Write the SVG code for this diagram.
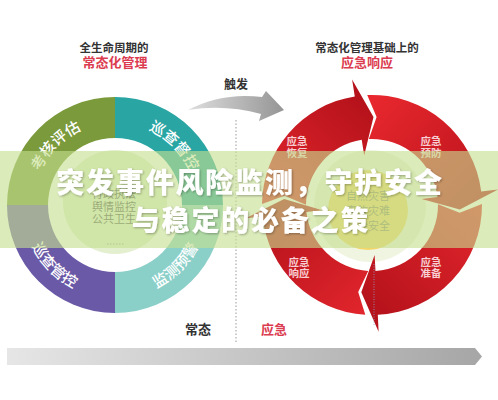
<svg xmlns="http://www.w3.org/2000/svg" width="498" height="400" viewBox="0 0 498 400">
<style>
text{font-family:"Noto Sans CJK SC","Noto Sans",sans-serif}
.h{font-size:11.5px;font-weight:700;fill:#333;text-anchor:middle}
.hr{font-size:13px;font-weight:700;fill:#dc3c50;text-anchor:middle}
.ring{font-size:15px;font-weight:500;fill:#fff}
.inl{font-size:11px;fill:#555;text-anchor:middle}
.inr{font-size:11px;fill:#8a8660;text-anchor:middle}
.al{font-size:10.5px;font-weight:700;fill:#f7cfd2;text-anchor:middle}
.title{font-size:28px;font-weight:900;fill:#fff;text-anchor:middle;letter-spacing:1.8px}
.arrow{stroke:none}
</style>
<defs>
<linearGradient id="gTop" gradientUnits="userSpaceOnUse" x1="270" y1="205" x2="365" y2="100"><stop offset="0" stop-color="#e3262d"/><stop offset="1" stop-color="#b5121b"/></linearGradient>
<linearGradient id="gRight" gradientUnits="userSpaceOnUse" x1="370" y1="100" x2="480" y2="200"><stop offset="0" stop-color="#e8282e"/><stop offset="1" stop-color="#bb131c"/></linearGradient>
<linearGradient id="gBottom" gradientUnits="userSpaceOnUse" x1="480" y1="205" x2="375" y2="315"><stop offset="0" stop-color="#e3262d"/><stop offset="1" stop-color="#b5121b"/></linearGradient>
<linearGradient id="gLeft" gradientUnits="userSpaceOnUse" x1="370" y1="315" x2="265" y2="210"><stop offset="0" stop-color="#e3262d"/><stop offset="1" stop-color="#b5121b"/></linearGradient>
<linearGradient id="gBar" x1="0" y1="0" x2="1" y2="0"><stop offset="0" stop-color="#e6e6e6"/><stop offset="1" stop-color="#a6a6a6"/></linearGradient>
<linearGradient id="gTrig" x1="0" y1="0" x2="1" y2="0"><stop offset="0" stop-color="#dedede"/><stop offset="1" stop-color="#959595"/></linearGradient>
<filter id="sh" x="-10%" y="-30%" width="120%" height="160%"><feDropShadow dx="1" dy="1" stdDeviation="1" flood-color="#000" flood-opacity="0.3"/></filter>
<path id="tpTL" d="M33,205 A82,82 0 0 1 115,123"/>
<path id="tpTR" d="M115,123 A82,82 0 0 1 197,205"/>
<path id="tpBL" d="M22,205 A93,93 0 0 0 115,298"/>
<path id="tpBR" d="M115,298 A93,93 0 0 0 208,205"/>
</defs>
<rect width="498" height="400" fill="#fff"/>

<g id="header-left">
<text class="h" x="114" y="52">全生命周期的</text>
<text class="hr" x="115" y="67">常态化管理</text>
</g>
<g id="header-right">
<text class="h" x="367" y="52">常态化管理基础上的</text>
<text class="hr" x="367" y="67">应急响应</text>
</g>

<g id="left-cycle">
<g id="seg-assess"><path d="M7,205 A108,108 0 0 1 115,97 L115,138 A67,67 0 0 0 48,205 Z" fill="#7b9a3b"/><text class="ring"><textPath href="#tpTL" startOffset="50%" text-anchor="middle">考核评估</textPath></text></g>
<g id="seg-inspect"><path d="M115,97 A108,108 0 0 1 223,205 L182,205 A67,67 0 0 0 115,138 Z" fill="#29a6a4"/><text class="ring"><textPath href="#tpTR" startOffset="50%" text-anchor="middle">巡查督控</textPath></text></g>
<g id="seg-monitor"><path d="M223,205 A108,108 0 0 1 115,313 L115,272 A67,67 0 0 0 182,205 Z" fill="#8bcfc9"/><text class="ring"><textPath href="#tpBR" startOffset="50%" text-anchor="middle">监测预警</textPath></text></g>
<g id="seg-control"><path d="M115,313 A108,108 0 0 1 7,205 L48,205 A67,67 0 0 0 115,272 Z" fill="#6a59a7"/><text class="ring"><textPath href="#tpBL" startOffset="50%" text-anchor="middle">巡查管控</textPath></text></g>
<g id="left-core">
<circle cx="115" cy="202" r="52" fill="#e3efcf"/>
<text class="inl" x="114" y="198">行政执法</text>
<text class="inl" x="114" y="211">舆情监控</text>
<text class="inl" x="114" y="223">公共卫生</text>
<line x1="107" y1="244" x2="124" y2="244" stroke="#999" stroke-width="1.2" stroke-dasharray="1.5 1.5"/>
</g>
</g>

<g id="right-cycle">
<g id="right-core">
<circle cx="370" cy="206" r="56" fill="#f0f5e1"/>
<circle cx="368" cy="210" r="40" fill="#f2d66a"/>
<text class="inr" x="368" y="200">自然灾害</text>
<text class="inr" x="368" y="215">事故灾难</text>
<text class="inr" x="368" y="230">社会安全</text>
</g>
<g id="arrow-recover"><path class="arrow" fill="url(#gTop)" d="M262.0,204.0 A110,110 0 0 1 354.8,96.4 L352.1,79.6 L373.5,117.0 L364.2,155.6 L361.7,139.8 A66,66 0 0 0 306.0,204.7 L284.5,195.8 Z"/><text class="al" x="297" y="145">应急</text><text class="al" x="297" y="157">恢复</text></g>
<g id="arrow-prevent"><path class="arrow" fill="url(#gRight)" d="M367.2,95.1 A110,110 0 0 1 481.2,191.6 L498.1,189.5 L459.9,209.6 L421.6,198.9 L437.5,197.0 A66,66 0 0 0 368.9,139.1 L376.6,117.1 Z"/><text class="al" x="431" y="145">应急</text><text class="al" x="431" y="157">预防</text></g>
<g id="arrow-prepare"><path class="arrow" fill="url(#gBottom)" d="M482.0,204.0 A110,110 0 0 1 377.8,314.8 L378.6,331.8 L361.3,292.3 L374.6,254.9 L375.5,270.9 A66,66 0 0 0 438.0,204.2 L459.7,212.7 Z"/><text class="al" x="431" y="266">应急</text><text class="al" x="431" y="277">准备</text></g>
<g id="arrow-respond"><path class="arrow" fill="url(#gLeft)" d="M365.3,314.8 A110,110 0 0 1 262.6,216.5 L245.7,218.3 L284.2,198.9 L322.3,210.2 L306.4,211.9 A66,66 0 0 0 368.2,270.9 L358.2,291.9 Z"/><text class="al" x="299" y="266">应急</text><text class="al" x="299" y="277">响应</text></g>
<line x1="374" y1="264" x2="374" y2="326" stroke="#8fa3c4" stroke-width="0.8" stroke-dasharray="1 1.5"/>
</g>

<g id="connectors">
<path id="trigger-arrow" d="M188,110 Q222,92 262,97 L266,91 L284,110 L259,121 L261,114 Q225,104 188,110 Z" fill="url(#gTrig)"/>
<line id="divider" x1="236" y1="120" x2="236" y2="342" stroke="#9a9a9a" stroke-width="1" stroke-dasharray="1.5 2"/>
<path id="timeline" d="M7,348 L475,348 L482,356.5 L475,365 L7,365 Z" fill="url(#gBar)"/>
</g>

<g id="labels">
<text class="h" x="236" y="89" style="font-size:12px">触发</text>
<text class="h" x="198" y="334" style="font-size:13px">常态</text>
<text class="hr" x="274" y="334">应急</text>
</g>

<g id="banner">
<rect x="0" y="151" width="498" height="97" fill="#c5de8f" opacity="0.62"/>
<g filter="url(#sh)">
<text class="title" x="250" y="193">突发事件风险监测，守护安全</text>
<text class="title" x="251" y="231">与稳定的必备之策</text>
</g>
</g>
</svg>
